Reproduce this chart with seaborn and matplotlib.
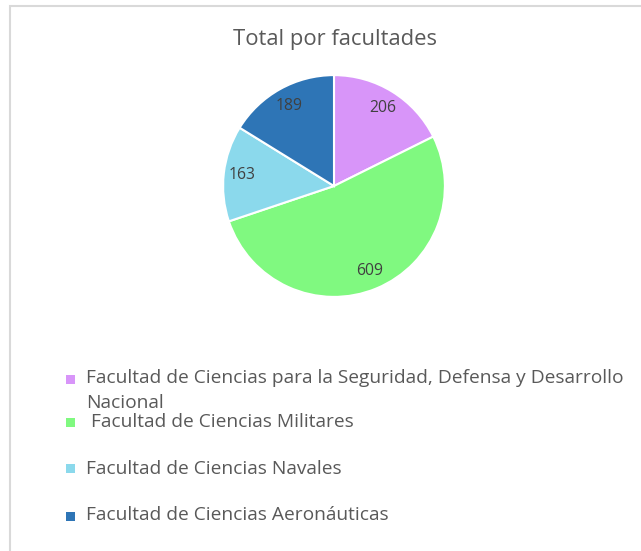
import matplotlib
matplotlib.use("Agg")
import matplotlib.pyplot as plt
from matplotlib.patches import Rectangle
import seaborn as sns

categories = [
    "Facultad de Ciencias para la Seguridad, Defensa y Desarrollo\nNacional",
    " Facultad de Ciencias Militares",
    "Facultad de Ciencias Navales",
    "Facultad de Ciencias Aeronáuticas",
]
values = [206, 609, 163, 189]
title = "Total por facultades"

colors = ["#D895F9", "#80F980", "#8BD9EC", "#2E75B6"]

sns.set_theme(style="white")
plt.rcParams["font.family"] = ["Open Sans", "DejaVu Sans"]

W, H = 641, 551
fig = plt.figure(figsize=(W / 100, H / 100), dpi=100)
fig.patch.set_facecolor("white")

def fx(px):
    return px / W

def fy(py):
    return 1 - py / H

# border
fig.patches.append(Rectangle((fx(10), -0.02), 1.0, fy(6) + 0.02, transform=fig.transFigure,
                             fill=False, edgecolor="#D9D9D9", linewidth=1.5))

cx, cy, r = 334, 186, 112
ax = fig.add_axes([fx(cx - r), fy(cy + r), fx(2 * r), (2 * r) / H])
total = sum(values)
wedges, texts, autotexts = ax.pie(
    values, colors=colors, startangle=90, counterclock=False,
    wedgeprops=dict(edgecolor="white", linewidth=1.5),
    autopct=lambda p: f"{round(p * total / 100)}", pctdistance=0.83,
    textprops=dict(color="#404040", fontsize=11.3),
)
ax.set_xlim(-1.01, 1.01)
ax.set_ylim(-1.01, 1.01)
ax.set_aspect("equal")

fig.text(fx(335), fy(39), title, ha="center", va="center", fontsize=15.8, color="#595959")

# legend
baselines = [383, 427, 474, 520]
marker_y = [379, 422, 468, 516]
line_gap = 25
for lab, col, by, my in zip(categories, colors, baselines, marker_y):
    s = 9
    fig.patches.append(Rectangle((fx(66), fy(my + s / 2)), fx(s), s / H, transform=fig.transFigure,
                                 facecolor=col, edgecolor="none"))
    for i, line in enumerate(lab.split("\n")):
        fig.text(fx(86), fy(by + i * line_gap), line, ha="left", va="baseline",
                 fontsize=13.8, color="#595959")

fig.savefig("out.png", dpi=100)
